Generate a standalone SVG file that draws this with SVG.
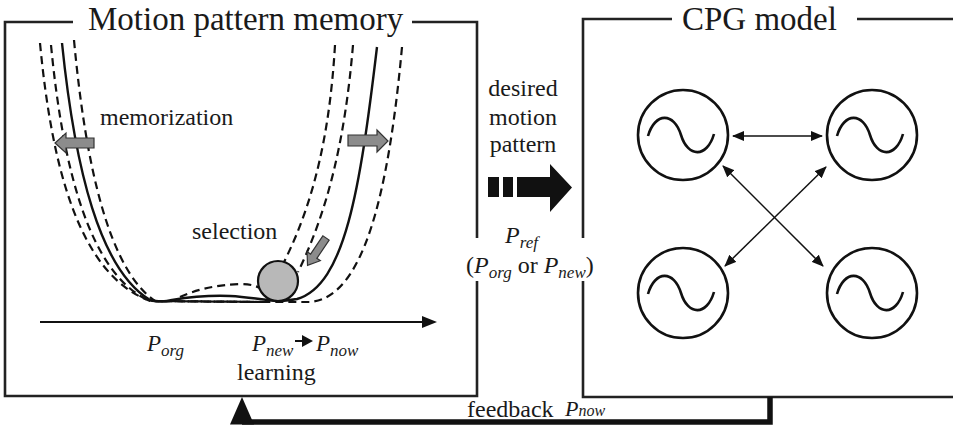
<svg xmlns="http://www.w3.org/2000/svg" width="953" height="428" viewBox="0 0 953 428">
<defs>
<style>
text{font-family:"Liberation Serif","Times New Roman",serif;fill:#1a1a1a}
.t{font-size:24px}
.title{font-size:33px}
.it{font-style:italic}
.box{fill:none;stroke:#222;stroke-width:2.6}
.dash{fill:none;stroke:#111;stroke-width:2.2;stroke-dasharray:8 5}
.sol{fill:none;stroke:#111;stroke-width:2.4}
.osc{fill:none;stroke:#111;stroke-width:2.6}
.con{fill:none;stroke:#111;stroke-width:1.5}
.gray{fill:#8c8c8c;stroke:#333;stroke-width:1.2}
</style>
<marker id="ah" viewBox="0 0 12 10" refX="11" refY="5" markerWidth="12" markerHeight="10" markerUnits="userSpaceOnUse" orient="auto-start-reverse">
<path d="M0,0 L12,5 L0,10 Z" fill="#111"/>
</marker>
<path id="wave" d="M-35,1 C-28,-23 -9,-23 -2,0 C5,23 24,23 31,-1" fill="none" stroke="#111" stroke-width="2.6"/>
</defs>
<rect width="953" height="428" fill="#fff"/>

<g id="memory">
<path class="box" d="M73,22 H5 V396 H477 V281 M477,238 V22 H412"/>
<text class="title" x="88" y="30">Motion pattern memory</text>
<path class="dash" d="M40,43 C52,170 80,275 150,301 L270,302"/>
<path class="dash" d="M51,45 C63,170 90,275 150,301 L262,302"/>
<path class="dash" d="M74,40 C86,170 110,270 155,301 L255,302"/>
<path class="dash" d="M402,47 C388,200 362,298 310,302 L240,302"/>
<path class="dash" d="M335,45 C330,130 315,200 284,262"/>
<path class="dash" d="M353,45 C345,140 328,210 298,272"/>
<path class="dash" d="M180,297 C195,290 215,285 240,284 C250,284 256,286 260,288"/>
<path class="sol" d="M62,43 C75,170 100,270 150,300 C158,302 165,302 172,300 C190,297 205,295 230,296 C250,297 262,300 278,301 C285,301 291,300 297,299 C345,285 360,190 377,47"/>
<circle cx="278" cy="281" r="20" fill="#b8b8b8" stroke="#111" stroke-width="2.2"/>
<polygon class="gray" points="94,138 66,138 66,133 55,143 66,153 66,148 94,148"/>
<polygon class="gray" points="348,135 377,135 377,130 388,141 377,152 377,146 348,146"/>
<polygon class="gray" transform="translate(326,238) rotate(124)" points="0,-3.8 22,-3.8 22,-8 33,0 22,8 22,3.8 0,3.8"/>
<text class="t" x="100" y="125">memorization</text>
<text class="t" x="192" y="239">selection</text>
<line x1="40" y1="322" x2="425" y2="322" stroke="#111" stroke-width="1.8"/>
<polygon points="437,322 422,316 422,328" fill="#111"/>
<text x="147" y="351"><tspan class="it" font-size="23">P</tspan><tspan class="it" font-size="17" dy="5">org</tspan></text>
<text x="252" y="351"><tspan class="it" font-size="23">P</tspan><tspan class="it" font-size="17" dy="5">new</tspan></text>
<line x1="295" y1="341" x2="303" y2="341" stroke="#111" stroke-width="2"/>
<polygon points="302,335 313,341 302,347" fill="#111"/>
<text x="316" y="351"><tspan class="it" font-size="23">P</tspan><tspan class="it" font-size="17" dy="5">now</tspan></text>
<text class="t" x="237" y="380">learning</text>
</g>

<g id="desired">
<text class="t" x="523" y="96" text-anchor="middle">desired</text>
<text class="t" x="523" y="124.5" text-anchor="middle">motion</text>
<text class="t" x="523" y="152" text-anchor="middle">pattern</text>
<rect x="488" y="177" width="11" height="20" fill="#111"/>
<rect x="503" y="177" width="10" height="20" fill="#111"/>
<polygon points="517,177 550,177 550,164 572,187.5 550,212 550,197 517,197" fill="#111"/>
<text x="505" y="243"><tspan class="it" font-size="24">P</tspan><tspan class="it" font-size="17" dy="5">ref</tspan></text>
<text x="466" y="273" font-size="24">(<tspan class="it">P</tspan><tspan class="it" font-size="17" dy="5">org</tspan><tspan dy="-5"> or </tspan><tspan class="it">P</tspan><tspan class="it" font-size="17" dy="5">new</tspan><tspan dy="-5">)</tspan></text>
</g>

<g id="cpg">
<path class="box" d="M672,19 H583 V238 M583,281 V397 H953 M857,19 H953"/>
<text class="title" x="682" y="30">CPG model</text>
</g>

<g id="osc1"><circle class="osc" cx="683" cy="135" r="45"/><use href="#wave" transform="translate(683,135)"/></g>
<g id="osc2"><circle class="osc" cx="872" cy="135" r="45"/><use href="#wave" transform="translate(872,135)"/></g>
<g id="osc3"><circle class="osc" cx="683" cy="293" r="45"/><use href="#wave" transform="translate(683,293)"/></g>
<g id="osc4"><circle class="osc" cx="872" cy="293" r="45"/><use href="#wave" transform="translate(872,293)"/></g>

<g id="connectors">
<line class="con" x1="733" y1="136" x2="822" y2="136" marker-start="url(#ah)" marker-end="url(#ah)"/>
<line class="con" x1="723" y1="166" x2="823" y2="266" marker-start="url(#ah)" marker-end="url(#ah)"/>
<line class="con" x1="826" y1="167" x2="725" y2="266" marker-start="url(#ah)" marker-end="url(#ah)"/>
<path d="M770,397 V422 H242" fill="none" stroke="#111" stroke-width="5.5"/>
<polygon points="242,397 230,424.5 254,424.5" fill="#111"/>
<text class="t" x="467" y="417">feedback</text>
<text x="565" y="416"><tspan class="it" font-size="22">P</tspan><tspan class="it" font-size="16">now</tspan></text>
</g>
</svg>
